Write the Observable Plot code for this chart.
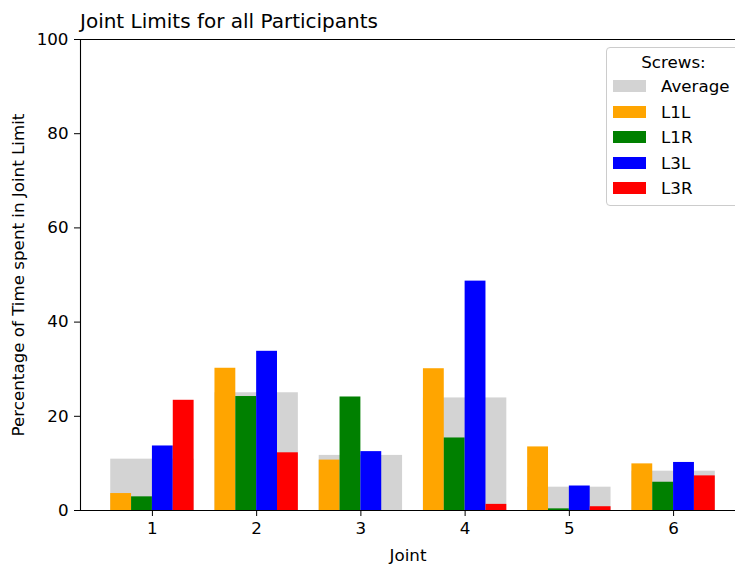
<!DOCTYPE html>
<html><head><meta charset="utf-8">
<script src="https://cdn.jsdelivr.net/npm/d3@7"></script>
<script src="https://cdn.jsdelivr.net/npm/@observablehq/plot@0.6"></script>
<style>
body{margin:0;overflow:hidden;background:#fff;font-family:"DejaVu Sans",sans-serif;}
#wrap{position:relative;width:735px;height:565px;}
#title{position:absolute;left:80px;top:9px;font-size:20px;color:#000;white-space:nowrap;}
#legend{position:absolute;left:606px;top:47px;width:135px;height:159px;border:1px solid #ccc;border-radius:4px;background:rgba(255,255,255,0.8);box-sizing:border-box;font-size:16.7px;color:#000;}
#legend .lt{position:absolute;left:0;width:100%;text-align:center;top:4px;line-height:20px;}
#legend .sw{position:absolute;left:6px;width:33px;height:12px;}
#legend .lb{position:absolute;left:54px;line-height:20px;}
</style></head><body>
<div id="wrap"><div id="title">Joint Limits for all Participants</div></div>
<script>
const joints = [1, 2, 3, 4, 5, 6];
const screws = ["L1L", "L1R", "L3L", "L3R"];
const average = [10.9, 25.0, 11.7, 23.9, 4.95, 8.35];
const L1L = [3.6, 30.2, 10.7, 30.1, 13.5, 9.9];
const L1R = [2.9, 24.2, 24.1, 15.4, 0.35, 6.0];
const L3L = [13.7, 33.8, 12.5, 48.7, 5.2, 10.2];
const L3R = [23.4, 12.25, 0, 1.3, 0.8, 7.35];
const yTicks = [0, 20, 40, 60, 80, 100];
const legendNames = ["Average", "L1L", "L1R", "L3L", "L3R"];
const legendColors = ["#d3d3d3", "orange", "green", "blue", "red"];

const series = {L1L, L1R, L3L, L3R};
const avgData = joints.map((j, i) => ({x1: j - 0.4, x2: j + 0.4, y: average[i]}));
const barData = screws.flatMap((s, k) => joints.map((j, i) => ({
  screw: s, x1: j - 0.4 + 0.2 * k, x2: j - 0.2 + 0.2 * k, y: series[s][i]
})));

const xMin = 0.31, xMax = 6.594;
const chart = Plot.plot({
  width: 735, height: 565,
  marginLeft: 80, marginRight: 0, marginTop: 39, marginBottom: 55,
  style: {fontFamily: "DejaVu Sans", fontSize: "16.7px", color: "#000", background: "#fff"},
  x: {domain: [xMin, xMax]},
  y: {domain: [0, 100]},
  color: {domain: screws, range: legendColors.slice(1)},
  marks: [
    Plot.rectY(avgData, {x1: "x1", x2: "x2", y: "y", fill: legendColors[0]}),
    Plot.rectY(barData, {x1: "x1", x2: "x2", y: "y", fill: "screw"}),
    Plot.ruleY([0, 100], {stroke: "#000", strokeWidth: 1.1}),
    Plot.ruleX([xMin], {stroke: "#000", strokeWidth: 1.1}),
    Plot.axisX({ticks: joints, tickFormat: d => String(d), tickSize: 6, tickPadding: 6,
      label: "Joint", labelAnchor: "center", labelArrow: "none", labelOffset: 50}),
    Plot.axisY({ticks: yTicks, tickFormat: d => String(d), tickSize: 6, tickPadding: 6,
      label: "Percentage of Time spent in Joint Limit", labelAnchor: "center", labelArrow: "none", labelOffset: 68})
  ]
});
const wrap = document.getElementById("wrap");
wrap.insertBefore(chart, wrap.firstChild);

const leg = document.createElement("div");
leg.id = "legend";
leg.innerHTML = '<div class="lt">Screws:</div>' + legendNames.map((n, i) =>
  `<div class="sw" style="top:${32 + i * 25.6}px;background:${legendColors[i]}"></div>` +
  `<div class="lb" style="top:${28 + i * 25.6}px">${n}</div>`).join("");
wrap.appendChild(leg);
</script>
</body></html>
